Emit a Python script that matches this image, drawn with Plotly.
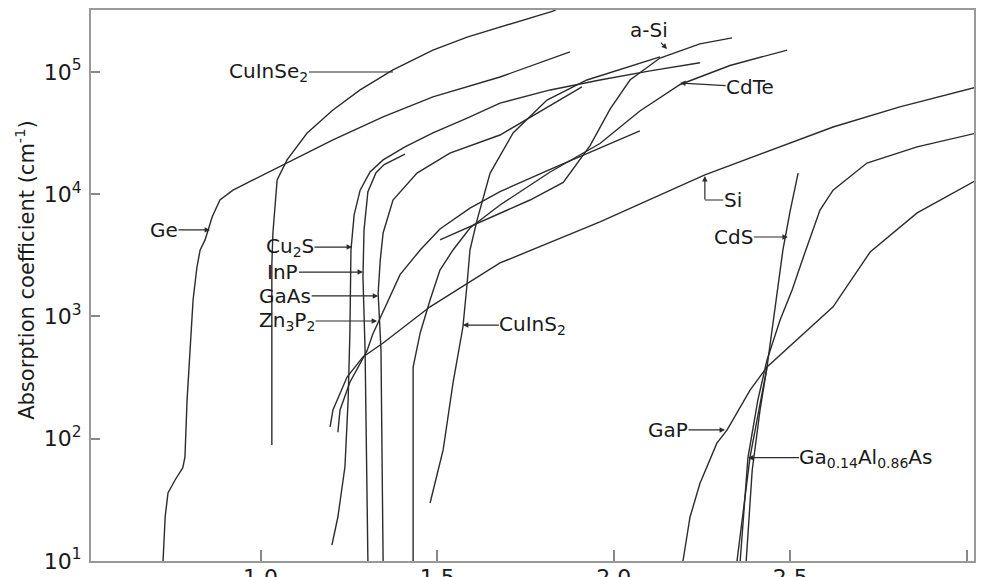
import math
import plotly.graph_objects as go

# Photon energy (eV) and absorption coefficient (cm^-1) for each material
ge_E = [0.724, 0.730, 0.738, 0.758, 0.780, 0.786, 0.792, 0.800, 0.809, 0.820, 0.829, 0.843,
        0.863, 0.885, 0.922, 0.979, 1.035, 1.092, 1.205, 1.347, 1.488, 1.678, 1.876]
ge_a = [10, 23, 36, 46, 58, 71, 207, 532, 1365, 2540, 3500, 4230,
        6520, 8970, 1.08e4, 1.31e4, 1.58e4, 1.91e4, 2.78e4, 4.29e4, 6.25e4, 9.1e4, 1.46e5]

cuinse2_E = [1.032, 1.032, 1.032, 1.035, 1.047, 1.075, 1.132, 1.205, 1.282, 1.375, 1.488,
             1.585, 1.678, 1.828, 1.870]
cuinse2_a = [89, 679, 2640, 4820, 1.31e4, 1.91e4, 3.17e4, 4.89e4, 7.13e4, 1.04e5, 1.51e5,
             1.93e5, 2.33e5, 3.15e5, 3.6e5]

cu2s_E = [1.202, 1.219, 1.239, 1.248, 1.253, 1.256, 1.265, 1.282, 1.310, 1.347, 1.409,
          1.488, 1.585, 1.678, 1.820, 1.961, 2.103, 2.244]
cu2s_a = [13.5, 22.9, 59, 207, 733, 3500, 6770, 1.08e4, 1.52e4, 1.91e4, 2.44e4,
          3.17e4, 4.2e4, 5.57e4, 7.13e4, 8.6e4, 1.02e5, 1.19e5]

inp_E = [1.304, 1.299, 1.296, 1.290, 1.293, 1.304, 1.327, 1.350, 1.409]
inp_a = [10, 81, 532, 2100, 5110, 1.05e4, 1.5e4, 1.75e4, 2.13e4]

gaas_E = [1.347, 1.344, 1.341, 1.333, 1.339, 1.347, 1.375, 1.443, 1.536, 1.678, 1.791, 1.910]
gaas_a = [10, 81, 532, 1556, 2900, 4820, 8970, 1.49e4, 2.17e4, 3.05e4, 4.71e4, 7.54e4]

zn3p2_E = [1.219, 1.225, 1.253, 1.282, 1.301, 1.318, 1.338, 1.358, 1.395, 1.452, 1.508,
           1.593, 1.678, 1.820, 1.961, 2.074]
zn3p2_a = [113, 172, 290, 420, 520, 720, 960, 1300, 2200, 3500, 5200,
           7700, 1.05e4, 1.6e4, 2.4e4, 3.3e4]

si_E = [1.197, 1.205, 1.245, 1.290, 1.347, 1.480, 1.678, 1.961, 2.258, 2.621, 2.810, 3.028]
si_a = [125, 172, 320, 467, 607, 1200, 2740, 5930, 1.44e4, 3.55e4, 5.18e4, 7.54e4]

cuins2_E = [1.480, 1.517, 1.545, 1.573, 1.585, 1.593, 1.613, 1.650, 1.715, 1.811, 1.924, 2.038, 2.131]
cuins2_a = [29.8, 81, 286, 820, 1880, 3500, 6150, 1.49e4, 3.17e4, 5.9e4, 8.6e4, 1.10e5, 1.33e5]

cdte_E = [1.432, 1.432, 1.432, 1.452, 1.480, 1.508, 1.545, 1.593, 1.678, 1.820, 1.961,
          2.074, 2.188, 2.329, 2.491]
cdte_a = [10, 81, 386, 733, 1365, 2400, 3500, 5300, 8170, 1.52e4, 2.6e4,
          4.8e4, 7.9e4, 1.13e5, 1.51e5]

asi_E = [1.508, 1.621, 1.763, 1.857, 1.933, 1.990, 2.046, 2.131, 2.244, 2.335]
asi_a = [4230, 5900, 8970, 1.25e4, 2.5e4, 5.0e4, 8.6e4, 1.3e5, 1.7e5, 1.9e5]

cds_E = [2.349, 2.386, 2.434, 2.479, 2.499, 2.522]
cds_a = [10, 71, 386, 3500, 7160, 1.49e4]

gap_E = [2.196, 2.216, 2.244, 2.292, 2.321, 2.386, 2.434, 2.527, 2.621, 2.726, 2.859, 3.028]
gap_a = [10, 22.9, 43, 92, 118, 250, 386, 679, 1200, 3370, 7030, 1.31e4]

gaalas_E = [2.358, 2.380, 2.408, 2.434, 2.471, 2.505, 2.536, 2.584, 2.621, 2.717, 2.859, 3.028]
gaalas_a = [10, 70, 207, 441, 935, 1650, 3010, 7430, 1.08e4, 1.8e4, 2.44e4, 3.17e4]
gaalas2_E = [2.375, 2.392, 2.414, 2.434]
gaalas2_a = [10, 55, 170, 386]

curves = [
    ("Ge", ge_E, ge_a), ("CuInSe2", cuinse2_E, cuinse2_a), ("Cu2S", cu2s_E, cu2s_a),
    ("InP", inp_E, inp_a), ("GaAs", gaas_E, gaas_a), ("Zn3P2", zn3p2_E, zn3p2_a),
    ("Si", si_E, si_a), ("CuInS2", cuins2_E, cuins2_a), ("CdTe", cdte_E, cdte_a),
    ("a-Si", asi_E, asi_a), ("CdS", cds_E, cds_a), ("GaP", gap_E, gap_a),
    ("Ga0.14Al0.86As", gaalas_E, gaalas_a), ("Ga0.14Al0.86As (2)", gaalas2_E, gaalas2_a),
]

# label text, arrow tip (E, alpha), text offset in pixels, arrow head style
labels = [
    ("CuInSe<sub>2</sub>", 1.375, 1.0e5, -124, 0, 0),
    ("Ge", 0.857, 5110, -46, 0, 2),
    ("Cu<sub>2</sub>S", 1.259, 3700, -62, 0, 2),
    ("InP", 1.290, 2310, -80, 0, 2),
    ("GaAs", 1.333, 1472, -93, 0, 2),
    ("Zn<sub>3</sub>P<sub>2</sub>", 1.330, 919, -90, 0, 2),
    ("CuInS<sub>2</sub>", 1.573, 851, 70, 0, 2),
    ("a-Si", 2.151, 1.54e5, -18, -19, 2),
    ("CdTe", 2.188, 8.13e4, 70, 4, 2),
    ("", 2.258, 1.41e4, 0, 24, 2),
    ("Si", 2.258, 8970, 28, 0, 0),
    ("CdS", 2.493, 4470, -54, 0, 2),
    ("GaP", 2.315, 118, -57, 0, 2),
    ("Ga<sub>0.14</sub>Al<sub>0.86</sub>As", 2.380, 70, 118, 0, 2),
]

ink = "#2b2b2b"
font_family = "DejaVu Sans, Arial, sans-serif"

fig = go.Figure()
for name, E, a in curves:
    fig.add_trace(go.Scatter(x=E, y=a, mode="lines", name=name,
                             line=dict(color=ink, width=1.4), showlegend=False,
                             hoverinfo="skip"))

# white patch behind the stacked labels so the CuInSe2 tail stays hidden there
fig.add_shape(type="rect", xref="x", yref="y", x0=0.99, x1=1.10, y0=2.84, y1=3.66,
              fillcolor="white", line=dict(width=0), layer="above")

for text, E, a, ax, ay, head in labels:
    fig.add_annotation(x=E, y=math.log10(a), xref="x", yref="y", text=text,
                       showarrow=True, ax=ax, ay=ay, arrowhead=head, arrowsize=0.9,
                       arrowwidth=1.2, arrowcolor=ink, standoff=0,
                       font=dict(family=font_family, size=20, color="#1a1a1a"),
                       borderpad=0)

# rotated y-axis title
fig.add_annotation(x=-0.075, y=0.528, xref="paper", yref="paper",
                   text="Absorption coefficient (cm<sup>-1</sup>)", textangle=-90,
                   showarrow=False, xanchor="center", yanchor="middle",
                   font=dict(family=font_family, size=21, color="#1a1a1a"))

fig.update_layout(
    width=982, height=577,
    margin=dict(l=91, r=8, t=10, b=16),
    paper_bgcolor="white", plot_bgcolor="white",
    font=dict(family=font_family, size=21, color="#1a1a1a"),
)
fig.update_xaxes(range=[0.52, 3.02], tickvals=[1.0, 1.5, 2.0, 2.5, 3.0],
                 ticktext=["1.0", "1.5", "2.0", "2.5", "3.0"],
                 ticks="inside", ticklen=11, tickwidth=1.5, tickcolor="#888",
                 showline=True, linecolor="#999", linewidth=2, mirror=True,
                 showgrid=False, zeroline=False, ticklabelstandoff=-4,
                 tickfont=dict(size=22), automargin=False)
fig.update_yaxes(type="log", range=[1, 5.507],
                 tickvals=[1e1, 1e2, 1e3, 1e4, 1e5],
                 ticktext=["10<sup>1</sup>", "10<sup>2</sup>", "10<sup>3</sup>",
                           "10<sup>4</sup>", "10<sup>5</sup>"],
                 ticks="inside", ticklen=9, tickwidth=1.5, tickcolor="#888",
                 showline=True, linecolor="#999", linewidth=2, mirror=True,
                 showgrid=False, zeroline=False, ticklabelstandoff=3,
                 tickfont=dict(size=22), automargin=False)

fig.write_html("out.html")
